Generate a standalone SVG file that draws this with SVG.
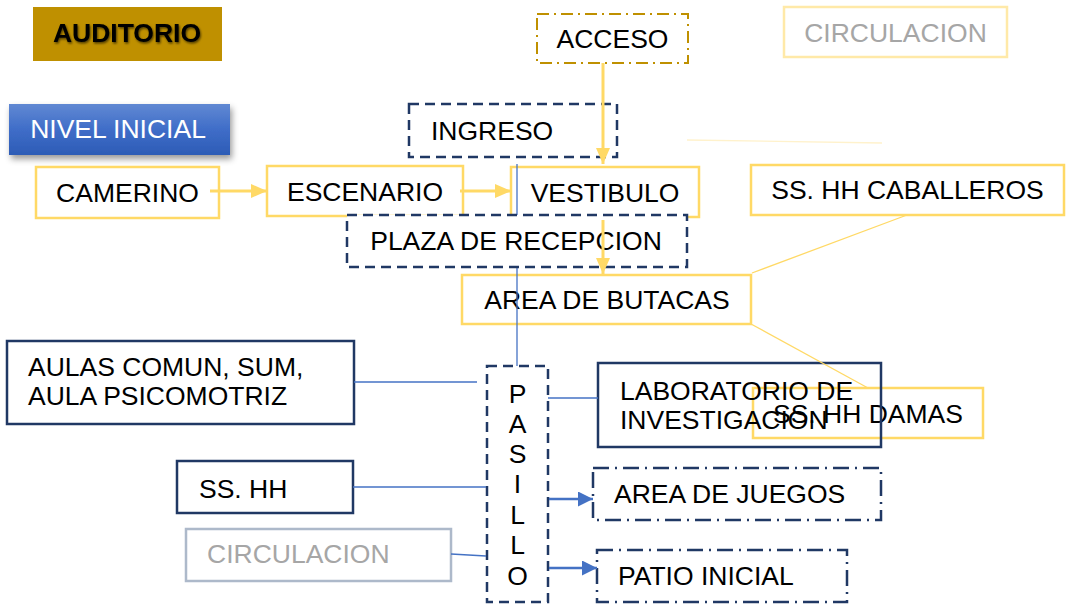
<svg xmlns="http://www.w3.org/2000/svg" width="1066" height="608" viewBox="0 0 1066 608">
<style>
text{font-family:"Liberation Sans",Arial,sans-serif;font-size:26.5px;fill:#000}
.c{text-anchor:middle}
.y{fill:none;stroke:#FFD966;stroke-width:2.5}
.yw{fill:#fff;stroke:#FFD966;stroke-width:2.5}
.nv{fill:none;stroke:#203864;stroke-width:2.5}
.nd{fill:none;stroke:#203864;stroke-width:2.5;stroke-dasharray:10 6}
.ndd{fill:none;stroke:#203864;stroke-width:2.5;stroke-dasharray:16 6 2 6}
.gd{fill:none;stroke:#BF9000;stroke-width:2;stroke-dasharray:12 5 2 5}
.ya{fill:none;stroke:#FFD966;stroke-width:3;marker-end:url(#ay)}
.ba{fill:none;stroke:#4472C4;stroke-width:2.5;marker-end:url(#ab)}
.bl{fill:none;stroke:#4472C4;stroke-width:1.3}
.yl{fill:none;stroke:#FFD966;stroke-width:1.3}
.gray{fill:#A6A6A6}
</style>
<defs>
<marker id="ay" markerUnits="userSpaceOnUse" markerWidth="16" markerHeight="14" refX="16" refY="7" orient="auto"><path d="M0,0 L16,7 L0,14 Z" fill="#FFD966"/></marker>
<marker id="ab" markerUnits="userSpaceOnUse" markerWidth="15" markerHeight="15" refX="15" refY="7.5" orient="auto"><path d="M0,0 L15,7.5 L0,15 Z" fill="#4472C4"/></marker>
<linearGradient id="gblue" x1="0" y1="0" x2="0" y2="1"><stop offset="0" stop-color="#6189D3"/><stop offset="0.5" stop-color="#3F6DC8"/><stop offset="1" stop-color="#2D5CB6"/></linearGradient>
<filter id="sh" x="-10%" y="-20%" width="130%" height="160%"><feDropShadow dx="2" dy="4" stdDeviation="3" flood-color="#000" flood-opacity="0.4"/></filter>
<filter id="tsh" x="-10%" y="-30%" width="120%" height="160%"><feDropShadow dx="1" dy="1.5" stdDeviation="1.2" flood-color="#000" flood-opacity="0.6"/></filter>
</defs>

<g id="auditorio"><rect x="33" y="7" width="189" height="54" fill="#BF9000"/><text x="127" y="42" class="c" font-weight="bold" filter="url(#tsh)">AUDITORIO</text></g>
<g id="nivel-inicial"><rect x="9" y="104" width="221" height="51" fill="url(#gblue)" filter="url(#sh)"/><text x="118" y="138" class="c" style="fill:#fff">NIVEL INICIAL</text></g>
<g id="circulacion-top"><rect x="784" y="7" width="223" height="50" fill="none" stroke="#FFE9A8" stroke-width="2.5"/><text x="895.5" y="42" class="c gray">CIRCULACION</text></g>
<g id="acceso"><rect x="537" y="14" width="151" height="49" class="gd"/><text x="612.5" y="48" class="c">ACCESO</text></g>
<g id="ingreso"><rect x="409" y="104" width="208" height="53" class="nd"/><text x="431" y="140">INGRESO</text></g>
<g id="camerino"><rect x="36" y="167" width="183" height="51" class="y"/><text x="127.5" y="202" class="c">CAMERINO</text></g>
<g id="escenario"><rect x="267" y="166" width="196" height="50" class="y"/><text x="365" y="201" class="c">ESCENARIO</text></g>
<g id="vestibulo"><rect x="511" y="167" width="188" height="50" class="y"/><text x="605" y="202" class="c">VESTIBULO</text></g>
<g id="caballeros"><rect x="751" y="165" width="313" height="50" class="y"/><text x="907.5" y="199" class="c">SS. HH CABALLEROS</text></g>
<g id="butacas"><rect x="462" y="275" width="289" height="49" class="yw"/><text x="607" y="309" class="c">AREA DE BUTACAS</text></g>
<g id="damas"><rect x="753" y="388" width="230" height="50" class="y"/><text x="868" y="423" class="c">SS. HH DAMAS</text></g>
<g id="laboratorio"><rect x="598" y="363" width="283" height="84" class="nv"/><text x="620" y="400">LABORATORIO DE</text><text x="620" y="429">INVESTIGACION</text></g>
<g id="aulas"><rect x="7" y="341" width="347" height="83" class="nv"/><text x="28" y="376">AULAS COMUN, SUM,</text><text x="28" y="405">AULA PSICOMOTRIZ</text></g>
<g id="sshh"><rect x="177" y="461" width="176" height="52" class="nv"/><text x="199" y="498">SS. HH</text></g>
<g id="circulacion-bottom"><rect x="186" y="529" width="265" height="52" fill="none" stroke="#ADB9CA" stroke-width="2.5"/><text x="207" y="563" class="gray">CIRCULACION</text></g>
<g id="juegos"><rect x="593" y="468" width="288" height="52" class="ndd"/><text x="614" y="503">AREA DE JUEGOS</text></g>
<g id="patio"><rect x="597" y="550" width="250" height="52" class="ndd"/><text x="618" y="585">PATIO INICIAL</text></g>
<g id="pasillo"><rect x="487" y="366" width="61" height="236" class="nd"/>
<text x="517.5" y="403" class="c">P</text><text x="517.5" y="433" class="c">A</text><text x="517.5" y="463" class="c">S</text><text x="517.5" y="493" class="c">I</text><text x="517.5" y="524" class="c">L</text><text x="517.5" y="554" class="c">L</text><text x="517.5" y="585" class="c">O</text></g>

<g id="connectors-back"><path class="bl" d="M517,164 V366"/></g>
<g id="plaza"><rect x="347" y="215" width="340" height="52" fill="#fff" stroke="#203864" stroke-width="2.5" stroke-dasharray="10 6"/><text x="516" y="250" class="c">PLAZA DE RECEPCION</text></g>

<g id="connectors">
<path class="ya" d="M210,191 H267"/>
<path class="ya" d="M460,191 H511"/>
<path class="ya" d="M603,63 V164"/>
<path class="ya" d="M603,220 V274"/>
<path class="ba" d="M549,499 H593"/>
<path class="ba" d="M549,568 H597"/>
<path class="bl" d="M354,382 H477"/>
<path class="bl" d="M353,487 H486"/>
<path class="bl" d="M451,554 L486,556"/>
<path class="bl" d="M548,398 H598"/>
<path class="yl" d="M907,215 L752,273"/>
<path class="yl" d="M751,324 L868,388"/>
<path d="M687,140 L882,143" fill="none" stroke="#FFF2CC" stroke-width="1.3"/>
</g>
</svg>
